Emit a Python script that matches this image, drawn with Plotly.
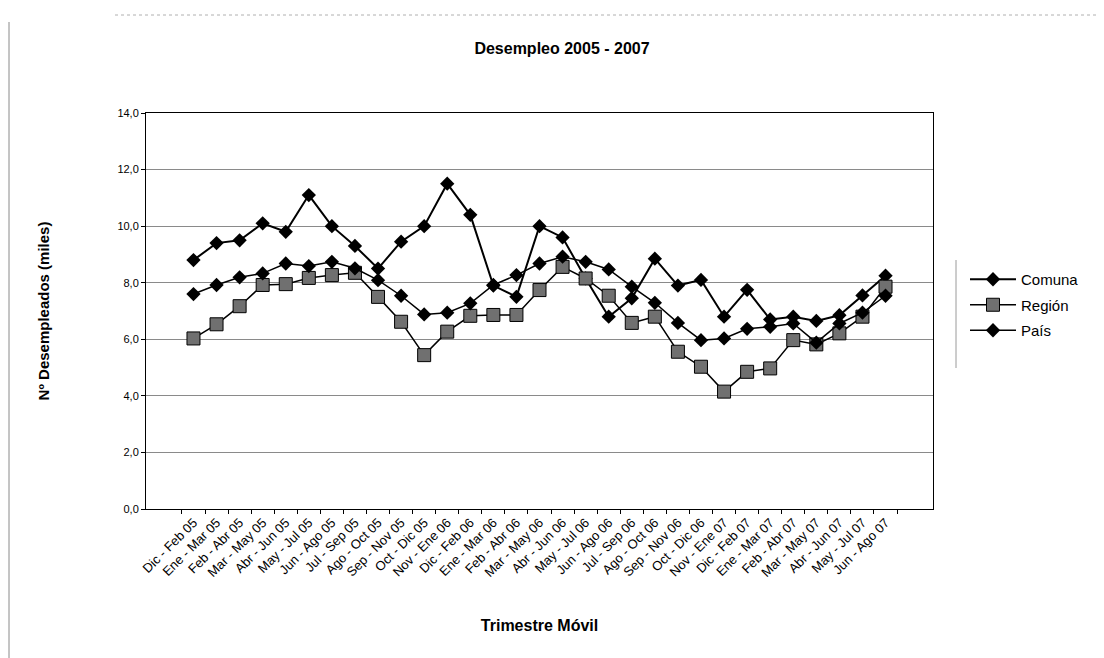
import plotly.graph_objects as go

categories = [
    "Dic - Feb 05", "Ene - Mar 05", "Feb - Abr 05", "Mar - May 05", "Abr - Jun 05",
    "May - Jul 05", "Jun - Ago 05", "Jul - Sep 05", "Ago - Oct 05", "Sep - Nov 05",
    "Oct - Dic 05", "Nov - Ene 06", "Dic - Feb 06", "Ene - Mar 06", "Feb - Abr 06",
    "Mar - May 06", "Abr - Jun 06", "May - Jul 06", "Jun - Ago 06", "Jul - Sep 06",
    "Ago - Oct 06", "Sep - Nov 06", "Oct - Dic 06", "Nov - Ene 07", "Dic - Feb 07",
    "Ene - Mar 07", "Feb - Abr 07", "Mar - May 07", "Abr - Jun 07", "May - Jul 07",
    "Jun - Ago 07",
]

comuna = [8.8, 9.4, 9.5, 10.1, 9.8, 11.1, 10.0, 9.3, 8.5, 9.45, 10.0, 11.5, 10.4,
          7.9, 7.5, 10.0, 9.6, 8.15, 6.8, 7.45, 8.85, 7.9, 8.1, 6.8, 7.75, 6.7,
          6.8, 6.65, 6.85, 7.55, 8.25]
region = [6.03, 6.53, 7.17, 7.92, 7.95, 8.17, 8.27, 8.35, 7.5, 6.62, 5.44, 6.27,
          6.83, 6.86, 6.86, 7.74, 8.56, 8.15, 7.54, 6.58, 6.8, 5.56, 5.03, 4.15,
          4.85, 4.97, 5.97, 5.82, 6.21, 6.8, 7.86]
pais = [7.6, 7.92, 8.19, 8.33, 8.68, 8.59, 8.74, 8.51, 8.09, 7.54, 6.88, 6.94,
        7.27, 7.92, 8.27, 8.68, 8.92, 8.74, 8.47, 7.86, 7.29, 6.58, 5.97, 6.03,
        6.37, 6.44, 6.56, 5.88, 6.56, 6.94, 7.54]

series_names = ["Comuna", "Región", "País"]

FONT = "Liberation Sans, Arial, sans-serif"

fig = go.Figure()
fig.add_trace(go.Scatter(
    x=categories, y=comuna, name=series_names[0], mode="lines+markers",
    line=dict(color="black", width=2),
    marker=dict(symbol="diamond", size=11, color="black"),
    legendgroup="a",
))
fig.add_trace(go.Scatter(
    x=categories, y=region, name=series_names[1], mode="lines+markers",
    line=dict(color="black", width=1.5),
    marker=dict(symbol="square", size=13, color="#707070",
                line=dict(color="black", width=1)),
    legendgroup="b",
))
fig.add_trace(go.Scatter(
    x=categories, y=pais, name=series_names[2], mode="lines+markers",
    line=dict(color="black", width=1.5),
    marker=dict(symbol="diamond", size=11, color="black"),
    legendgroup="c",
))

# the page body adds an 8px margin; work in screen coordinates and shift
OFF = 8
W, H = 1104 - OFF, 658 - OFF
L, R, T, B = 146 - OFF, 933 - OFF, 113 - OFF, 509 - OFF


def px_x(x):
    return (x - OFF - L) / (R - L)


def px_y(y):
    return (B - (y - OFF)) / (B - T)


fig.update_layout(
    width=W, height=H,
    margin=dict(l=L, r=W - R, t=T, b=H - B, autoexpand=False),
    paper_bgcolor="white", plot_bgcolor="white",
    separators=",.",
    font=dict(family=FONT, color="black"),
    title=dict(text="<b>Desempleo 2005 - 2007</b>", x=px_x(562), xref="paper",
               xanchor="center", y=1 - (48 - OFF) / H, yanchor="middle",
               font=dict(size=16, family=FONT, color="black")),
    showlegend=True,
    legend=dict(x=px_x(965), y=px_y(263), xanchor="left", yanchor="top",
                font=dict(size=15, family=FONT, color="black"),
                bgcolor="rgba(0,0,0,0)", borderwidth=0,
                tracegroupgap=3, itemwidth=46),
    xaxis=dict(
        type="category", showline=True, linecolor="black", linewidth=1,
        mirror=True, ticks="outside", ticklen=4, tickcolor="black",
        tickson="boundaries", tickangle=-45, showgrid=False,
        tickfont=dict(size=13, family=FONT, color="black"),
        title=dict(text="<b>Trimestre Móvil</b>", standoff=40,
                   font=dict(size=16, family=FONT, color="black")),
        automargin=False,
    ),
    yaxis=dict(
        range=[0, 14], dtick=2, tickformat=".1f", showline=True,
        linecolor="black", linewidth=1, mirror=True, ticks="outside",
        ticklen=4, tickcolor="black", showgrid=True, gridcolor="#8a8a8a",
        gridwidth=1, zeroline=False,
        tickfont=dict(size=11, family=FONT, color="black"),
        title=dict(text="<b>Nº Desempleados (miles)</b>", standoff=64,
                   font=dict(size=15, family=FONT, color="black")),
        automargin=False,
    ),
    shapes=[
        dict(type="line", xref="paper", yref="paper",
             x0=px_x(956), x1=px_x(956), y0=px_y(260), y1=px_y(368),
             line=dict(color="#9a9a9a", width=1)),
        dict(type="line", xref="paper", yref="paper",
             x0=px_x(9), x1=px_x(9), y0=px_y(22), y1=px_y(658),
             line=dict(color="#8a8a8a", width=1)),
        dict(type="line", xref="paper", yref="paper",
             x0=px_x(115), x1=px_x(1100), y0=px_y(15), y1=px_y(15),
             line=dict(color="#b0b0b0", width=1, dash="dot")),
    ],
)

fig.write_html("out.html")
